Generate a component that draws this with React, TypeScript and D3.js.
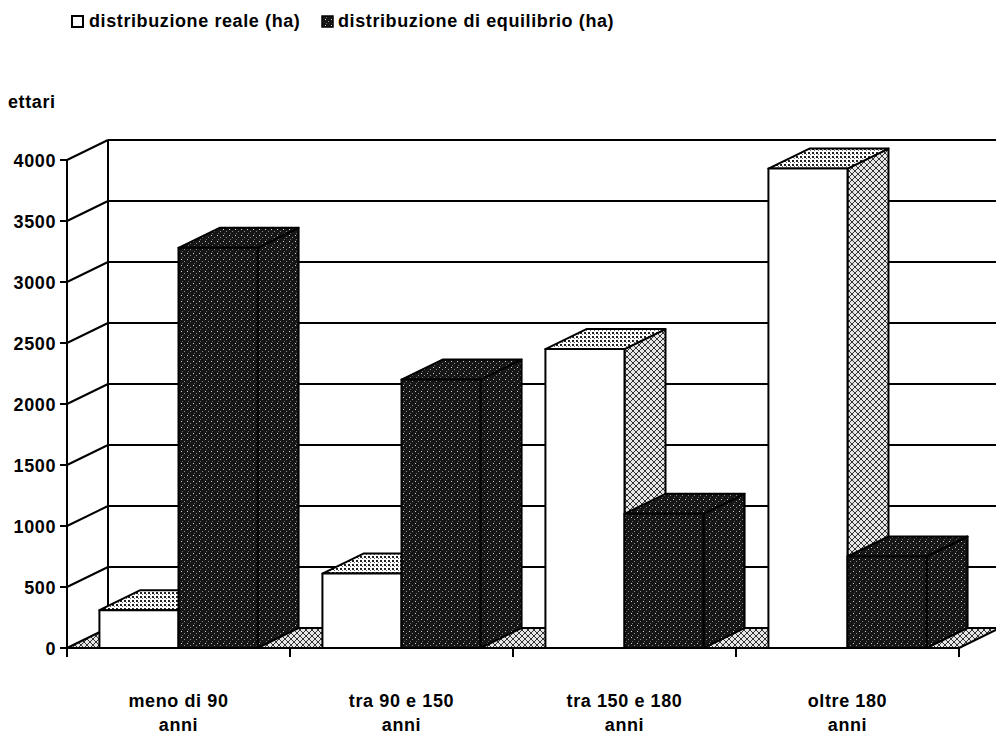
import * as d3 from "d3";

// chart data
const categories = ["meno di 90 anni", "tra 90 e 150 anni", "tra 150 e 180 anni", "oltre 180 anni"];
const categoryLines = [
  ["meno di 90", "anni"],
  ["tra 90 e 150", "anni"],
  ["tra 150 e 180", "anni"],
  ["oltre 180", "anni"],
];
const seriesNames = ["distribuzione reale (ha)", "distribuzione di equilibrio (ha)"];
const reale = [310, 610, 2450, 3930];
const equilibrio = [3280, 2200, 1100, 750];
const yTicks = [0, 500, 1000, 1500, 2000, 2500, 3000, 3500, 4000];

const W = 996;
const H = 734;
const left = 67;
const right = 959;
const bottom = 648;
const top = 160;
const dx = 41;
const dy = -20;
const font = "'Liberation Sans', Arial, Helvetica, sans-serif";

type Face = { d: string; fill: string };

export default function App() {
  const y = d3.scaleLinear().domain([0, 4000]).range([bottom, top]);
  const x = d3.scaleBand().domain(categories).range([left, right]);
  const xs = d3.scaleBand().domain(seriesNames).range([0, x.bandwidth()]).paddingOuter(0.41);

  const boundaries = d3.range(categories.length + 1).map((i) => left + i * x.step());

  const bar = (x0: number, w: number, v: number, kind: "white" | "dark"): Face[] => {
    const y1 = y(v);
    const front = `M${x0},${y1}H${x0 + w}V${bottom}H${x0}Z`;
    const topFace = `M${x0},${y1}L${x0 + dx},${y1 + dy}H${x0 + w + dx}L${x0 + w},${y1}Z`;
    const side = `M${x0 + w},${y1}L${x0 + w + dx},${y1 + dy}V${bottom + dy}L${x0 + w},${bottom}Z`;
    if (kind === "dark") {
      return [
        { d: side, fill: "url(#stipple)" },
        { d: topFace, fill: "url(#stipple)" },
        { d: front, fill: "url(#stipple)" },
      ];
    }
    return [
      { d: side, fill: "url(#hatch)" },
      { d: topFace, fill: "url(#dots)" },
      { d: front, fill: "#fff" },
    ];
  };

  const bars: Face[] = [];
  categories.forEach((c, i) => {
    const bx = x(c)!;
    bars.push(...bar(bx + xs(seriesNames[0])!, xs.bandwidth(), reale[i], "white"));
    bars.push(...bar(bx + xs(seriesNames[1])!, xs.bandwidth(), equilibrio[i], "dark"));
  });

  const floor = `M${left},${bottom}H${right}L${right + dx},${bottom + dy}H${left + dx}Z`;
  const textStyle = { fontFamily: font, fontWeight: 700, fontSize: 18, letterSpacing: 0.6 } as const;

  return (
    <svg width={W} height={H} style={{ position: "absolute", left: 0, top: 0, background: "#fff" }}>
      <defs>
        <pattern id="stipple" width="6" height="6" patternUnits="userSpaceOnUse">
          <rect width="6" height="6" fill="#161616" />
          <rect x="1" y="1" width="1" height="1" fill="#fff" opacity="0.8" />
          <rect x="4" y="3" width="1" height="1" fill="#ddd" opacity="0.6" />
          <rect x="2" y="5" width="1" height="1" fill="#bbb" opacity="0.5" />
        </pattern>
        <pattern id="dots" width="4" height="4" patternUnits="userSpaceOnUse">
          <rect width="4" height="4" fill="#fff" />
          <rect x="0" y="0" width="2" height="2" fill="#222" />
          <rect x="2" y="2" width="1" height="1" fill="#666" />
        </pattern>
        <pattern id="hatch" width="6" height="6" patternUnits="userSpaceOnUse">
          <rect width="6" height="6" fill="#e6e6e6" />
          <path d="M0,0L6,6M6,0L0,6" stroke="#333" strokeWidth="1" />
        </pattern>
      </defs>

      {/* legend */}
      <g style={textStyle}>
        <rect x={72} y={16} width={11} height={11} fill="#fff" stroke="#000" strokeWidth={2} />
        <text x={89} y={27}>{seriesNames[0]}</text>
        <rect x={322} y={16} width={11} height={11} fill="url(#stipple)" stroke="#000" strokeWidth={1.5} />
        <text x={338} y={27}>{seriesNames[1]}</text>
        <text x={8} y={108}>ettari</text>
      </g>

      {/* floor */}
      <path d={floor} fill="url(#hatch)" stroke="none" />

      {/* back wall gridlines and side wall */}
      <g stroke="#000" strokeWidth={2} fill="none">
        {yTicks.map((t) => (
          <g key={t}>
            <line x1={left + dx} x2={W + 10} y1={y(t) + dy} y2={y(t) + dy} />
            <line x1={left} y1={y(t)} x2={left + dx} y2={y(t) + dy} />
            <line x1={left - 7} x2={left} y1={y(t)} y2={y(t)} />
          </g>
        ))}
        <line x1={left + dx} x2={left + dx} y1={y(4000) + dy} y2={y(0) + dy} />
        <line x1={left} x2={left} y1={y(4000)} y2={bottom + 9} />
        <line x1={right} y1={bottom} x2={right + dx} y2={bottom + dy} />
      </g>

      {/* bars */}
      <g stroke="#000" strokeWidth={2} strokeLinejoin="round">
        {bars.map((f, i) => (
          <path key={i} d={f.d} fill={f.fill} />
        ))}
      </g>

      {/* front floor edge and category ticks */}
      <g stroke="#000" strokeWidth={2}>
        <line x1={left} x2={right} y1={bottom} y2={bottom} />
        {boundaries.map((b) => (
          <line key={b} x1={b} x2={b} y1={bottom} y2={bottom + 9} />
        ))}
      </g>

      {/* y tick labels */}
      <g style={textStyle} textAnchor="end">
        {yTicks.map((t) => (
          <text key={t} x={56} y={y(t) + 6.5}>
            {t}
          </text>
        ))}
      </g>

      {/* category labels */}
      <g style={textStyle} textAnchor="middle">
        {categories.map((c, i) => (
          <text key={c} x={x(c)! + x.bandwidth() / 2}>
            <tspan x={x(c)! + x.bandwidth() / 2} y={707}>
              {categoryLines[i][0]}
            </tspan>
            <tspan x={x(c)! + x.bandwidth() / 2} y={731}>
              {categoryLines[i][1]}
            </tspan>
          </text>
        ))}
      </g>
    </svg>
  );
}
